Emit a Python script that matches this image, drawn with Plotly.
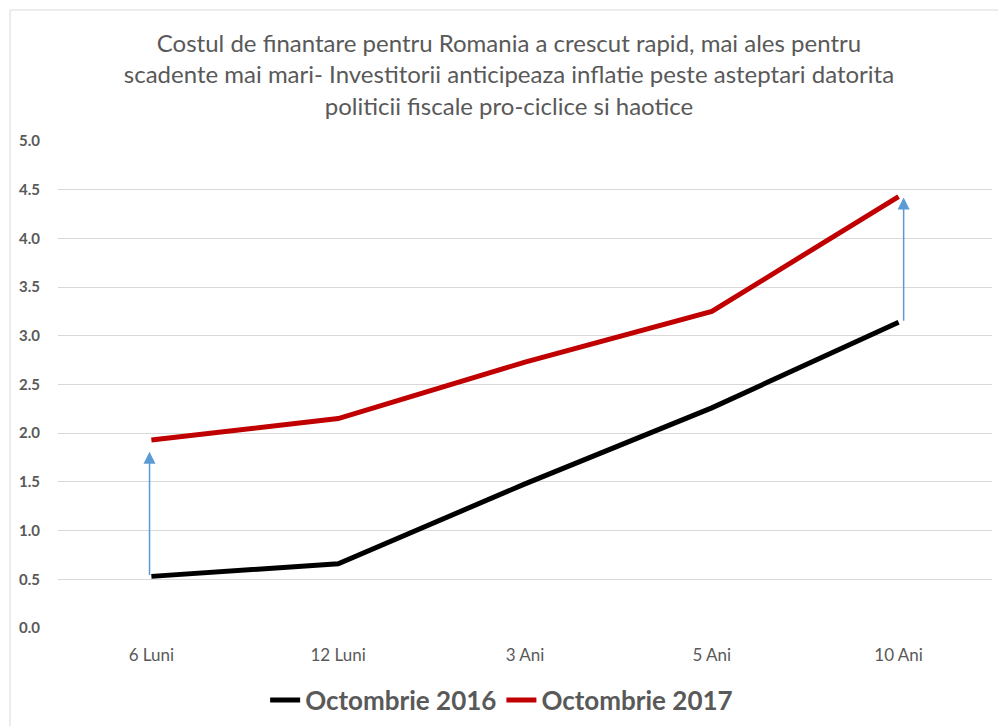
import plotly.graph_objects as go

categories = ["6 Luni", "12 Luni", "3 Ani", "5 Ani", "10 Ani"]
oct_2016 = [0.53, 0.66, 1.48, 2.26, 3.14]
oct_2017 = [1.93, 2.15, 2.73, 3.25, 4.43]
y_ticks = [0.0, 0.5, 1.0, 1.5, 2.0, 2.5, 3.0, 3.5, 4.0, 4.5, 5.0]
title_lines = [
    "Costul de finantare pentru Romania a crescut rapid, mai ales pentru",
    "scadente mai mari- Investitorii anticipeaza inflatie peste asteptari datorita",
    "politicii fiscale pro-ciclice si haotice",
]

FONT = "Lato"
GRAY = "#595959"

fig = go.Figure()
fig.add_trace(go.Scatter(x=categories, y=oct_2016, mode="lines", name="Octombrie 2016",
                         line=dict(color="#000000", width=5)))
fig.add_trace(go.Scatter(x=categories, y=oct_2017, mode="lines", name="Octombrie 2017",
                         line=dict(color="#C00000", width=5)))

# arrows from 2016 to 2017 at first and last maturity
arrow_pairs = [(0, -0.01, oct_2016[0], oct_2017[0] - 0.12), (4, 0.027, oct_2016[4], oct_2017[4] - 0.01)]
for idx, dx, y0, y1 in arrow_pairs:
    fig.add_annotation(x=idx + dx, y=y1, ax=idx + dx, ay=y0, xref="x", yref="y",
                       axref="x", ayref="y", showarrow=True, arrowhead=2, arrowsize=1.6,
                       arrowwidth=1.5, arrowcolor="#5B9BD5", text="")

fig.update_layout(
    width=998, height=726,
    paper_bgcolor="white", plot_bgcolor="white",
    margin=dict(l=58, r=6, t=141, b=98, autoexpand=False),
    title=dict(text="<br>".join(title_lines), x=0.51, xanchor="center", y=0.928, yanchor="middle",
               font=dict(family=FONT, size=24, color=GRAY)),
    font=dict(family=FONT, color=GRAY),
    showlegend=True,
    legend=dict(orientation="h", x=0.475, xanchor="center", y=-0.148, yanchor="middle",
                font=dict(family=FONT, size=26, color=GRAY, weight="bold"),
                itemwidth=30, tracegroupgap=0),
    shapes=[dict(type="rect", xref="paper", yref="paper",
                 x0=-48/934, x1=1.02, y0=-0.3, y1=(628 - 10) / 487,
                 line=dict(color="#D9D9D9", width=1), layer="below")],
)
fig.update_xaxes(type="category", range=[-0.5, 4.5], showgrid=False, showline=False, ticks="",
                 tickfont=dict(family=FONT, size=17, color=GRAY), ticklabelstandoff=15)
fig.update_yaxes(range=[0, 5], tickvals=y_ticks, ticktext=[f"{v:.1f}" for v in y_ticks],
                 showgrid=True, gridcolor="#D9D9D9", gridwidth=1, zeroline=False,
                 showline=False, ticks="", ticklabelstandoff=17,
                 tickfont=dict(family=FONT, size=15, color=GRAY, weight="bold"))

fig.write_html("out.html", config={"displayModeBar": False},
               post_script="document.body.style.margin='0';")
